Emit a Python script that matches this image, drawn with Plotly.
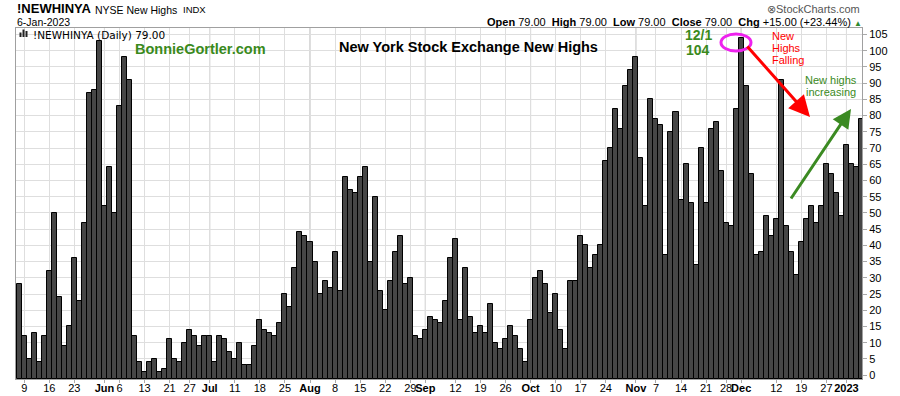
import plotly.graph_objects as go
import pandas as pd

# ---------------- data ----------------
START, END = "2022-05-06", "2023-01-06"
HOLIDAYS = ["2022-05-30", "2022-06-20", "2022-07-04", "2022-09-05",
            "2022-11-24", "2022-12-26", "2023-01-02"]

NEW_HIGHS_MAY = [28, 12, 5, 13, 4, 12, 32, 50, 24, 9, 15, 36, 23, 47, 87, 88, 103]
NEW_HIGHS_JUN = [52, 64, 50, 83, 98, 91, 12, 4, 1, 4, 5, 1, 2, 11, 5, 4, 10, 14, 12, 9, 12]
NEW_HIGHS_JUL = [12, 4, 12, 11, 7, 5, 10, 3, 3, 9, 17, 14, 13, 12, 16, 25, 21, 33, 44, 43]
NEW_HIGHS_AUG = [41, 35, 25, 29, 27, 38, 26, 61, 57, 56, 61, 64, 35, 55, 26, 20, 29, 38,
                 43, 28, 30, 12, 11]
NEW_HIGHS_SEP = [14, 18, 17, 16, 23, 36, 42, 17, 33, 18, 13, 15, 13, 22, 10, 8, 11, 15, 12, 8, 4]
NEW_HIGHS_OCT = [17, 30, 32, 28, 19, 25, 14, 8, 29, 29, 43, 40, 33, 37, 40, 66, 70, 82, 76, 89, 94]
NEW_HIGHS_NOV = [98, 67, 52, 85, 79, 77, 37, 75, 81, 54, 65, 53, 34, 70, 53, 76, 78, 63, 47, 46, 82]
NEW_HIGHS_DEC = [104, 89, 62, 37, 38, 49, 43, 48, 91, 46, 38, 31, 41, 48, 52, 47, 52, 65, 62, 56, 49]
NEW_HIGHS_JAN = [71, 65, 64, 79]

TICK_DATES = ["2022-05-09", "2022-05-16", "2022-05-23", "2022-06-01", "2022-06-06",
              "2022-06-13", "2022-06-21", "2022-06-27", "2022-07-01", "2022-07-11",
              "2022-07-18", "2022-07-25", "2022-08-01", "2022-08-08", "2022-08-15",
              "2022-08-22", "2022-08-29", "2022-09-01", "2022-09-12", "2022-09-19",
              "2022-09-26", "2022-10-03", "2022-10-10", "2022-10-17", "2022-10-24",
              "2022-11-01", "2022-11-07", "2022-11-14", "2022-11-21", "2022-11-28",
              "2022-12-01", "2022-12-12", "2022-12-19", "2022-12-27", "2023-01-03"]
TICK_LABELS = ["9", "16", "23", "Jun", "6", "13", "21", "27", "Jul", "11", "18", "25",
               "Aug", "8", "15", "22", "29", "Sep", "12", "19", "26", "Oct", "10", "17",
               "24", "Nov", "7", "14", "21", "28", "Dec", "12", "19", "27", "2023"]
MONTH_LABELS = {"Jun", "Jul", "Aug", "Sep", "Oct", "Nov", "Dec", "2023"}

Y_TICKS = list(range(0, 106, 5))
Y_MIN, Y_MAX = -1.2, 107.0

OPEN, HIGH, LOW, CLOSE, CHG, CHG_PCT = 79.00, 79.00, 79.00, 79.00, 15.00, 23.44

# ---------------- build ----------------
values = (NEW_HIGHS_MAY + NEW_HIGHS_JUN + NEW_HIGHS_JUL + NEW_HIGHS_AUG + NEW_HIGHS_SEP
          + NEW_HIGHS_OCT + NEW_HIGHS_NOV + NEW_HIGHS_DEC + NEW_HIGHS_JAN)
days = pd.bdate_range(START, END)
days = days[~days.isin(pd.to_datetime(HOLIDAYS))]
dates = [d.strftime("%Y-%m-%d") for d in days]
assert len(dates) == len(values), (len(dates), len(values))

W, H = 900, 396
ML, MR, MT, MB = 16, 38, 28, 17
PW, PH = W - ML - MR, H - MT - MB


def px(x):
    return (x - ML) / PW


def py(y):
    return (H - MB - y) / PH


GREEN = "#3a8a1c"
FONT = "Liberation Sans, Arial, sans-serif"

fig = go.Figure()
fig.add_trace(go.Bar(
    x=dates, y=[v - Y_MIN for v in values], base=Y_MIN,
    marker=dict(color="#464646", line=dict(color="#000000", width=1)),
    hovertemplate="%{x}: %{customdata}<extra></extra>", customdata=values,
))

ticktext = [f"<b>{t}</b>" if t in MONTH_LABELS else t for t in TICK_LABELS]

shapes = []
# darker month grid lines
for d, t in zip(TICK_DATES, TICK_LABELS):
    if t in MONTH_LABELS:
        i = dates.index(d)
        shapes.append(dict(type="line", xref="x", yref="paper", x0=i, x1=i, y0=0, y1=1,
                           line=dict(color="#b4b4b4", width=1), layer="below"))
# magenta ellipse
shapes.append(dict(type="circle", xref="paper", yref="paper",
                   x0=px(721), x1=px(751), y0=py(34), y1=py(51),
                   line=dict(color="#ee22ee", width=3)))
# chart-type icon
for x0, ytop in [(19.5, 32.5), (22.5, 29.5), (25.5, 31)]:
    shapes.append(dict(type="rect", xref="paper", yref="paper",
                       x0=px(x0), x1=px(x0 + 2), y0=py(37), y1=py(ytop),
                       fillcolor="#222222", line=dict(width=0)))

ann = []


def text(x, y, s, size, color="#000000", xanchor="left", family=FONT):
    ann.append(dict(xref="paper", yref="paper", x=px(x), y=py(y), text=s, showarrow=False,
                    xanchor=xanchor, yanchor="middle",
                    font=dict(size=size, color=color, family=family)))


text(15, 8.5, "<b>!NEWHINYA</b>", 13)
text(93, 9.5, "NYSE New Highs", 10.5)
text(181, 10, "INDX", 9.5)
text(15, 22.5, "6-Jan-2023", 10.5)
text(862, 9, "\u2297StockCharts.com", 11, color="#555555", xanchor="right")
text(864, 22,
     f"<b>Open</b> {OPEN:.2f}  <b>High</b> {HIGH:.2f}  <b>Low</b> {LOW:.2f}  "
     f"<b>Close</b> {CLOSE:.2f}  <b>Chg</b> +{CHG:.2f} (+{CHG_PCT:.2f}%) "
     f"<span style='color:#2e8b2e;font-size:8px'>\u25b2</span>", 11, xanchor="right")
text(31, 35, f"!NEWHINYA (Daily) {CLOSE:.2f}", 10.5, family="DejaVu Sans, sans-serif")
text(133, 49, "<b>BonnieGortler.com</b>", 14.5, color=GREEN)
text(337, 47, "<b>New York Stock Exchange New Highs</b>", 14.5)
text(698, 35, "<b>12/1</b>", 14, color=GREEN, xanchor="center")
text(698, 50, "<b>104</b>", 14, color=GREEN, xanchor="center")
text(770, 36, "New", 11, color="#ff0000")
text(770, 48, "Highs", 11, color="#ff0000")
text(770, 60, "Falling", 11, color="#ff0000")
text(830.5, 80, "New highs", 11, color=GREEN, xanchor="center")
text(830.5, 92, "increasing", 11, color=GREEN, xanchor="center")

# arrows
ann.append(dict(xref="paper", yref="paper", x=px(810), y=py(117), ax=746 - 810, ay=45 - 117,
                showarrow=True, arrowhead=2, arrowsize=1.4, arrowwidth=3,
                arrowcolor="#ff0000", text=""))
ann.append(dict(xref="paper", yref="paper", x=px(851), y=py(109), ax=790 - 851, ay=200 - 109,
                showarrow=True, arrowhead=2, arrowsize=1.25, arrowwidth=3,
                arrowcolor="#3b8a22", text=""))

fig.update_layout(
    width=W, height=H, margin=dict(l=ML, r=MR, t=MT, b=MB, autoexpand=False),
    paper_bgcolor="white", plot_bgcolor="white",
    bargap=0, showlegend=False,
    font=dict(family=FONT, size=11, color="#000000"),
    shapes=shapes, annotations=ann,
    xaxis=dict(type="category", range=[-0.64, len(dates) - 0.9], automargin=False,
               tickmode="array", tickvals=TICK_DATES, ticktext=ticktext, tickangle=0,
               showgrid=True, gridcolor="#dedede", gridwidth=1,
               ticks="outside", ticklen=3, tickcolor="#aaaaaa", ticklabelstandoff=-4,
               showline=True, mirror=True, linecolor="#a0a0a0", linewidth=1,
               tickfont=dict(size=11, family=FONT, color="#000000"), fixedrange=True),
    yaxis=dict(side="right", range=[Y_MIN, Y_MAX], tickmode="array", tickvals=Y_TICKS,
               automargin=False,
               showgrid=True, gridcolor="#dedede", gridwidth=1, zeroline=False,
               ticks="outside", ticklen=4, tickcolor="#aaaaaa",
               showline=True, mirror=True, linecolor="#a0a0a0", linewidth=1,
               tickfont=dict(size=11, family=FONT, color="#000000"), fixedrange=True),
)

fig.write_html("out.html", config={"displayModeBar": False},
               post_script="document.body.style.margin='0px';document.body.style.padding='0px';")
